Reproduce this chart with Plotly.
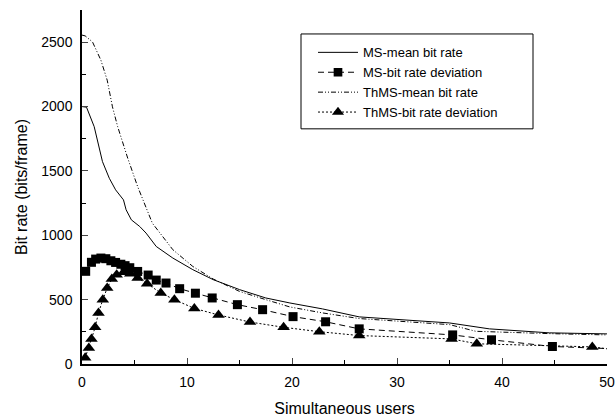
import plotly.graph_objects as go

# ---- data ----
ms_mean_x = [0.0, 0.43, 1.16, 1.54, 1.95, 2.6, 3.2, 3.95, 4.2, 4.7, 5.5, 6.1, 7.07, 8.65,
             10.55, 12.5, 15.0, 17.5, 19.8, 22.9, 26.4, 35.0, 38.8, 44.5, 50.0]
ms_mean_y = [2000, 1995, 1844, 1715, 1572, 1443, 1353, 1275, 1198, 1120, 1068, 1017, 913, 823,
             733, 655, 578, 513, 474, 428, 366, 319, 273, 242, 234]

th_mean_x = [0.0, 0.3, 1.0, 1.8, 2.4, 2.9, 3.4, 4.35, 5.3, 6.1, 6.7, 8.65, 10.55, 12.5,
             15.0, 17.5, 19.8, 22.9, 26.4, 35.0, 37.5, 44.5, 50.0]
th_mean_y = [2555, 2549, 2502, 2360, 2205, 1998, 1843, 1600, 1378, 1211, 1094, 888, 758, 660,
             564, 500, 443, 397, 353, 306, 254, 236, 226]

ms_dev_x = [0.35, 0.9, 1.3, 1.8, 2.27, 2.75, 3.2, 3.7, 4.1, 4.55, 5.3, 6.3, 7.07, 8.0, 9.3,
            10.8, 12.4, 14.8, 17.2, 20.1, 23.2, 26.4, 35.3, 39.0, 44.8, 50.0]
ms_dev_y = [720, 790, 815, 823, 818, 802, 789, 775, 764, 748, 719, 691, 652, 629, 585,
            550, 513, 461, 422, 368, 328, 273, 226, 188, 136, 120]

th_dev_x = [0.3, 0.65, 0.9, 1.25, 1.57, 1.98, 2.4, 2.84, 3.3, 3.95, 4.6, 5.3, 6.2, 7.5, 8.8,
            10.7, 13.0, 16.0, 19.2, 22.6, 26.4, 35.2, 37.6, 48.6, 50.0]
th_dev_y = [48, 125, 195, 285, 397, 500, 590, 660, 694, 712, 702, 668, 624, 552, 500,
            432, 381, 326, 285, 251, 221, 195, 157, 133, 118]

names = ["MS-mean bit rate", "MS-bit rate deviation", "ThMS-mean bit rate", "ThMS-bit rate deviation"]
x_ticks = [0, 10, 20, 30, 40, 50]
y_ticks = [0, 500, 1000, 1500, 2000, 2500]

FONT = "Arial, 'Liberation Sans', sans-serif"

def marker_sizes(xs, size):
    # last point (x=50) is a line end without a marker
    return [size if x < 50 else 0 for x in xs]

fig = go.Figure()
fig.add_trace(go.Scatter(x=ms_mean_x, y=ms_mean_y, mode="lines", name=names[0],
                         line=dict(color="black", width=1)))
fig.add_trace(go.Scatter(x=ms_dev_x, y=ms_dev_y, mode="lines+markers", name=names[1],
                         line=dict(color="black", width=1, dash="6px,4px"),
                         marker=dict(symbol="square", color="black", opacity=1,
                                     line=dict(width=0),
                                     size=marker_sizes(ms_dev_x, 9))))
fig.add_trace(go.Scatter(x=th_mean_x, y=th_mean_y, mode="lines", name=names[2],
                         line=dict(color="black", width=1, dash="5px,2px,1px,2px,1px,2px")))
fig.add_trace(go.Scatter(x=th_dev_x, y=th_dev_y, mode="lines+markers", name=names[3],
                         line=dict(color="black", width=1, dash="2px,2px"),
                         marker=dict(symbol="triangle-up", color="black", opacity=1,
                                     line=dict(width=0),
                                     size=marker_sizes(th_dev_x, 11))))

fig.update_layout(
    width=616, height=417,
    margin=dict(l=82, r=9, t=10, b=53),
    paper_bgcolor="white", plot_bgcolor="white",
    font=dict(family=FONT, size=13, color="black"),
    showlegend=True,
    legend=dict(x=0.44, y=(364.5 - 82.5) / 354.5, xanchor="left", yanchor="middle",
                bgcolor="rgba(0,0,0,0)", borderwidth=0,
                font=dict(family=FONT, size=13, color="black"),
                itemwidth=40, tracegroupgap=0),
    shapes=[dict(type="rect", xref="paper", yref="paper",
                 x0=(301 - 82) / 525, x1=(533 - 82) / 525,
                 y0=(364.5 - 129) / 354.5, y1=(364.5 - 34) / 354.5,
                 line=dict(color="black", width=1))],
)

fig.update_xaxes(
    range=[0, 50], tickvals=x_ticks, ticks="inside", ticklen=6, tickwidth=1,
    showline=True, linecolor="black", linewidth=1.5, showgrid=False, zeroline=False,
    minor=dict(dtick=5, tick0=0, ticks="inside", ticklen=4, tickcolor="black", showgrid=False),
    tickfont=dict(size=14), ticklabelstandoff=4, automargin=False,
    title=dict(text="Simultaneous users", font=dict(size=16), standoff=17),
)
fig.update_yaxes(
    range=[0, 2750], tickvals=y_ticks, ticks="inside", ticklen=6, tickwidth=1,
    showline=True, linecolor="black", linewidth=1.5, showgrid=False, zeroline=False,
    minor=dict(dtick=250, tick0=0, ticks="inside", ticklen=4, tickcolor="black", showgrid=False),
    tickfont=dict(size=14), ticklabelstandoff=5, automargin=False,
    title=dict(text="Bit rate (bits/frame)", font=dict(size=16), standoff=10),
)

fig.write_html("out.html")
